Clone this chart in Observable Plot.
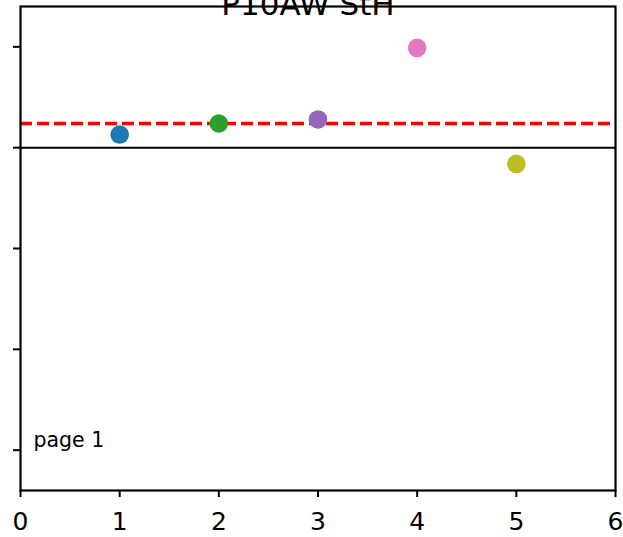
<!DOCTYPE html>
<html>
<head>
<meta charset="utf-8">
<script src="https://cdn.jsdelivr.net/npm/d3@7"></script>
<script src="https://cdn.jsdelivr.net/npm/@observablehq/plot@0.6"></script>
<style>
  html, body { margin: 0; padding: 0; background: #fff; }
  #chart svg { display: block; }
</style>
</head>
<body>
<div id="chart"></div>
<script>
const titleText = "P10AW StH";
const pageLabel = "page 1";
const xs = [1, 2, 3, 4, 5];
const ys = [0.13, 0.24, 0.28, 0.99, -0.16];
const colors = ["#1f77b4", "#2ca02c", "#9467bd", "#e377c2", "#bcbd22"];
const refLine = [0.24];
const zeroLine = [0];
const xTicks = [0, 1, 2, 3, 4, 5, 6];
const yTicks = [-3, -2, -1, 0, 1];
const xDomain = [0, 6];
const yDomain = [-3.4, 1.4];

const points = xs.map((x, i) => ({x, y: ys[i], c: colors[i]}));
const font = "DejaVu Sans, sans-serif";

const chart = Plot.plot({
  width: 623,
  height: 537,
  marginLeft: 20,
  marginRight: 8,
  marginTop: 6,
  marginBottom: 47,
  style: {fontFamily: font, background: "#fff", color: "#000", overflow: "visible"},
  x: {domain: xDomain},
  y: {domain: yDomain},
  marks: [
    Plot.ruleY(zeroLine, {stroke: "#000", strokeWidth: 2}),
    Plot.ruleY(refLine, {stroke: "#ff0000", strokeWidth: 3.5, strokeDasharray: "12,5"}),
    Plot.dot(points, {x: "x", y: "y", fill: "c", r: 9.3, stroke: null}),
    Plot.frame({stroke: "#000", strokeWidth: 2.2}),
    Plot.axisX({ticks: xTicks, tickSize: 7, tickPadding: 15, strokeWidth: 2, fontSize: 25, tickFormat: d => String(d), label: null}),
    Plot.axisY({ticks: yTicks, tickSize: 7, strokeWidth: 2, tickFormat: () => "", label: null}),
    Plot.text([titleText], {frameAnchor: "top", lineAnchor: "bottom", dy: 8, dx: -10, fontSize: 31, fill: "#000"}),
    Plot.text([pageLabel], {frameAnchor: "bottom-left", textAnchor: "start", lineAnchor: "bottom", dx: 13, dy: -44, fontSize: 20.5, fill: "#000"})
  ]
});
document.getElementById("chart").appendChild(chart);
</script>
</body>
</html>
